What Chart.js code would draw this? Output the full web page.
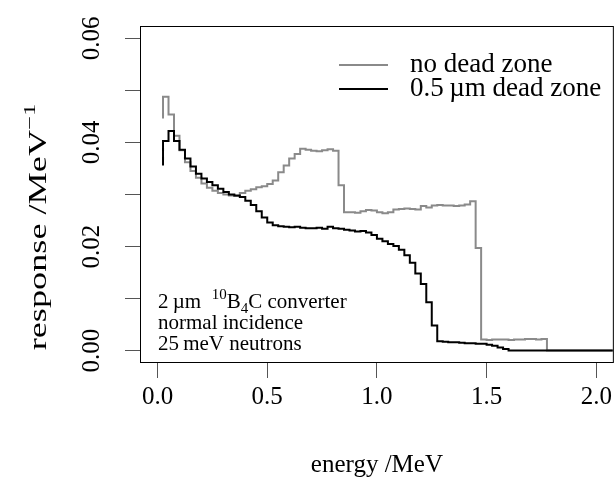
<!DOCTYPE html>
<html>
<head>
<meta charset="utf-8">
<script src="https://cdn.jsdelivr.net/npm/chart.js@4"></script>
<style>
  html, body { margin: 0; padding: 0; background: #fff; }
  #wrap { width: 616px; height: 489px; }
</style>
</head>
<body>
<div id="wrap"><canvas id="myChart" width="616" height="489"></canvas></div>
<script>
// energy at the right edge of each 25 keV bin (MeV)
var energy = [0.025,0.05,0.075,0.1,0.125,0.15,0.175,0.2,0.225,0.25,
  0.275,0.3,0.325,0.35,0.375,0.4,0.425,0.45,0.475,0.5,
  0.525,0.55,0.575,0.6,0.625,0.65,0.675,0.7,0.725,0.75,
  0.775,0.8,0.825,0.85,0.875,0.9,0.925,0.95,0.975,1.0,
  1.025,1.05,1.075,1.1,1.125,1.15,1.175,1.2,1.225,1.25,
  1.275,1.3,1.325,1.35,1.375,1.4,1.425,1.45,1.475,1.5,
  1.525,1.55,1.575,1.6,1.625,1.65,1.675,1.7,1.725,1.75,
  1.775,1.8,1.825,1.85,1.875,1.9,1.925,1.95,1.975,2.0,
  2.025,2.05,2.075];

// response /MeV^-1, no dead zone (grey)
var noDeadZone = [0.0446,0.0488,0.0454,0.0413,0.0385,0.0362,0.0345,0.0332,0.0321,0.0313,
  0.0307,0.0303,0.0300,0.0298,0.0297,0.0303,0.0307,0.0310,0.0314,0.0316,
  0.0320,0.0327,0.0343,0.0356,0.0369,0.0378,0.0388,0.0386,0.0384,0.0383,
  0.0385,0.0387,0.0384,0.0318,0.0266,0.0266,0.0265,0.0268,0.0270,0.0269,
  0.0266,0.0264,0.0266,0.0271,0.0272,0.0273,0.0272,0.0271,0.0278,0.0275,
  0.0279,0.0280,0.0279,0.0279,0.0278,0.0279,0.0281,0.0287,0.0197,0.0021,
  0.0020,0.0021,0.0021,0.0021,0.0020,0.0021,0.0021,0.0022,0.0022,0.0021,
  0.0022,0,0,0,0,0,0,0,0,0,
  0,0,0];

// response /MeV^-1, 0.5 um dead zone (black)
var deadZone = [0.0356,0.0403,0.0422,0.0403,0.0386,0.0369,0.0354,0.0340,0.0331,0.0324,
  0.0318,0.0311,0.0305,0.0300,0.0298,0.0295,0.0288,0.0280,0.0268,0.0256,
  0.0246,0.0241,0.0239,0.0238,0.0237,0.0238,0.0236,0.0235,0.0235,0.0236,
  0.0234,0.0238,0.0235,0.0234,0.0232,0.0231,0.0229,0.0230,0.0227,0.0222,
  0.0215,0.0210,0.0205,0.0201,0.0194,0.0183,0.0169,0.0148,0.0128,0.0093,
  0.0048,0.0018,0.0017,0.0016,0.0016,0.0015,0.0014,0.0014,0.0013,0.0013,
  0.0011,0.0009,0.0006,0.0003,0,0,0,0,0,0,
  0,0,0,0,0,0,0,0,0,0,
  0,0,0];

var seriesNames = ["no dead zone", "0.5\u2009\u00b5m dead zone"];
var seriesColors = ["#8a8a8a", "#000000"];

var xTicks = [0, 0.5, 1.0, 1.5, 2.0];
var yTicks = [0, 0.01, 0.02, 0.03, 0.04, 0.05, 0.06];
var yTickLabels = ["0.00", "", "0.02", "", "0.04", "", "0.06"];

var serif = "'Liberation Serif', 'DejaVu Serif', serif";

function pts(vals) {
  return energy.map(function (e, i) { return {x: e, y: vals[i]}; });
}

// legend, y title, note text and plot box
var extras = {
  id: "extras",
  afterDraw: function (chart) {
    var ctx = chart.ctx, a = chart.chartArea;
    ctx.save();
    ctx.strokeStyle = "#000";
    ctx.lineWidth = 1;
    ctx.strokeRect(a.left + 0.5, a.top + 0.5, a.right - a.left - 1, a.bottom - a.top - 1);

    // legend
    ctx.font = "27px " + serif;
    ctx.textBaseline = "middle";
    ctx.textAlign = "left";
    for (var i = 0; i < seriesNames.length; i++) {
      var y = 65 + i * 24;
      ctx.strokeStyle = seriesColors[i];
      ctx.lineWidth = 2;
      ctx.beginPath();
      ctx.moveTo(339, y);
      ctx.lineTo(388, y);
      ctx.stroke();
      ctx.fillStyle = "#000";
      ctx.fillText(seriesNames[i], 410, y);
    }

    // note
    ctx.textBaseline = "alphabetic";
    var fs = 21, x = 158, by = 308;
    function seg(t, size, dy) {
      ctx.font = size + "px " + serif;
      ctx.fillText(t, x, by + dy);
      x += ctx.measureText(t).width;
    }
    seg("2\u2009\u00b5m  ", fs, 0);
    seg("10", 15, -9);
    seg("B", fs, 0);
    seg("4", 15, 5);
    seg("C converter", fs, 0);
    ctx.font = fs + "px " + serif;
    ctx.fillText("normal incidence", 158, by + 21);
    ctx.fillText("25\u2009meV neutrons", 158, by + 42);

    // y axis title (long, as in the reference)
    ctx.translate(46, 227);
    ctx.rotate(-Math.PI / 2);
    ctx.scale(1.45, 1);
    var main = "response /MeV";
    ctx.font = "25px " + serif;
    var w1 = ctx.measureText(main).width;
    ctx.font = "17px " + serif;
    var w2 = ctx.measureText("\u22121").width;
    var sx = -(w1 + w2) / 2;
    ctx.font = "25px " + serif;
    ctx.fillText(main, sx, 0);
    ctx.font = "17px " + serif;
    ctx.fillText("\u22121", sx + w1, -11);
    ctx.restore();
  }
};

new Chart("myChart", {
  type: "line",
  data: {
    datasets: [{
      label: seriesNames[0],
      data: pts(noDeadZone),
      borderColor: seriesColors[0],
      borderWidth: 2,
      stepped: "after",
      pointRadius: 0,
      fill: false,
      order: 1
    }, {
      label: seriesNames[1],
      data: pts(deadZone),
      borderColor: seriesColors[1],
      borderWidth: 2,
      stepped: "after",
      pointRadius: 0,
      fill: false,
      order: 0
    }]
  },
  options: {
    responsive: false,
    animation: false,
    layout: {padding: {top: 25, right: 2, left: 0, bottom: 0}},
    plugins: {legend: {display: false}, tooltip: {enabled: false}},
    scales: {
      x: {
        type: "linear",
        min: -0.08,
        max: 2.08,
        afterBuildTicks: function (s) { s.ticks = xTicks.map(function (v) { return {value: v}; }); },
        afterFit: function (s) { s.height = 126; },
        border: {display: false},
        grid: {drawOnChartArea: false, tickLength: 15, color: "#555", tickWidth: 1},
        ticks: {
          color: "#000",
          font: {family: serif, size: 25},
          padding: 4,
          maxRotation: 0,
          callback: function (v) { return v.toFixed(1); }
        },
        title: {display: true, text: "energy /MeV", color: "#000", font: {family: serif, size: 25}, padding: {bottom: 9}}
      },
      y: {
        min: -0.0024,
        max: 0.0624,
        afterBuildTicks: function (s) { s.ticks = yTicks.map(function (v) { return {value: v}; }); },
        afterFit: function (s) { s.width = 140; },
        border: {display: false},
        grid: {drawOnChartArea: false, tickLength: 15, color: "#555", tickWidth: 1},
        ticks: {
          color: "#000",
          font: {family: serif, size: 25},
          minRotation: 90,
          maxRotation: 90,
          crossAlign: "center",
          padding: 11,
          autoSkip: false,
          callback: function (v, i) { return yTickLabels[i]; }
        }
      }
    }
  },
  plugins: [extras]
});
</script>
</body>
</html>
